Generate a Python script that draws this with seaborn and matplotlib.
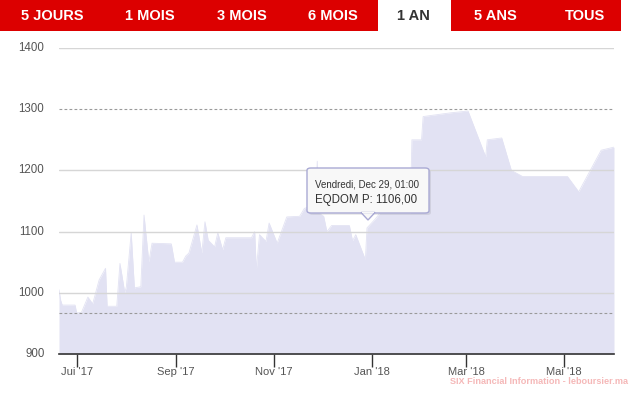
import matplotlib
matplotlib.use("Agg")
import matplotlib.pyplot as plt
from matplotlib.patches import Rectangle, FancyBboxPatch, Polygon
import seaborn as sns
import pandas as pd

# ---- data ----
dates = [
    "2017-06-20", "2017-06-21", "2017-06-22", "2017-06-30", "2017-07-01", "2017-07-04",
    "2017-07-08", "2017-07-11", "2017-07-15", "2017-07-19", "2017-07-20", "2017-07-26",
    "2017-07-28", "2017-07-31", "2017-08-01", "2017-08-04", "2017-08-06", "2017-08-10",
    "2017-08-12", "2017-08-15", "2017-08-17", "2017-08-29", "2017-08-31", "2017-09-05",
    "2017-09-07", "2017-09-09", "2017-09-14", "2017-09-17", "2017-09-19", "2017-09-21",
    "2017-09-25", "2017-09-27", "2017-09-30", "2017-10-02", "2017-10-18", "2017-10-20",
    "2017-10-21", "2017-10-23", "2017-10-27", "2017-10-29", "2017-11-03", "2017-11-09",
    "2017-11-17", "2017-11-20", "2017-11-23", "2017-11-27", "2017-11-28", "2017-11-29",
    "2017-12-02", "2017-12-04", "2017-12-07", "2017-12-18", "2017-12-20", "2017-12-22",
    "2017-12-28", "2017-12-29", "2018-01-03", "2018-01-06", "2018-01-25", "2018-01-26",
    "2018-02-01", "2018-02-02", "2018-02-19", "2018-03-02", "2018-03-13", "2018-03-14",
    "2018-03-23", "2018-03-29", "2018-04-05", "2018-05-03", "2018-05-10", "2018-05-24",
    "2018-06-01",
]
values = [
    1005, 988, 980, 980, 967, 968,
    993, 982, 1021, 1040, 978, 978,
    1048, 1000, 1010, 1098, 1008, 1010,
    1127, 1050, 1081, 1080, 1050, 1050,
    1060, 1065, 1111, 1065, 1116, 1086,
    1075, 1098, 1070, 1090, 1090, 1100,
    1037, 1095, 1084, 1114, 1081, 1124,
    1125, 1138, 1140, 1150, 1215, 1130,
    1125, 1100, 1110, 1110, 1085, 1095,
    1054, 1106, 1120, 1130, 1130, 1250,
    1250, 1288, 1294, 1297, 1222, 1250,
    1253, 1200, 1190, 1190, 1165, 1233,
    1238,
]
yticks = [900, 1000, 1100, 1200, 1300, 1400]
xtick_dates = ["2017-07-01", "2017-09-01", "2017-11-01", "2018-01-01", "2018-03-01", "2018-05-01"]
xtick_labels = ["Jui '17", "Sep '17", "Nov '17", "Jan '18", "Mar '18", "Mai '18"]
tabs = ["5 JOURS", "1 MOIS", "3 MOIS", "6 MOIS", "1 AN", "5 ANS", "TOUS"]
tab_centers = [52, 150, 242, 333, 413, 495, 585]
max_line = 1300
min_line = 967

df = pd.DataFrame({"date": pd.to_datetime(dates), "value": values})

sns.set_theme(style="white")
plt.rcParams["font.family"] = ["Liberation Sans", "DejaVu Sans"]

W, H = 632, 394
fig = plt.figure(figsize=(W / 100, H / 100), dpi=100)
fig.patch.set_facecolor("white")

def fx(x):
    return x / W

def fy(y):
    return 1 - y / H

ax = fig.add_axes([fx(59), fy(354), fx(614) - fx(59), fy(48) - fy(354)])
ax.set_facecolor("white")

fill_color = "#e2e2f3"
ax.fill_between(df["date"], df["value"], 900, color=fill_color, lw=0, zorder=1)
sns.lineplot(data=df, x="date", y="value", ax=ax, color=fill_color, lw=0.6, zorder=1)

for v in [1000, 1100, 1200, 1400]:
    ax.axhline(v, color="#d6d6d6", lw=1, zorder=2)
for v in [max_line, min_line]:
    ax.axhline(v, color="#9a9a9a", lw=0.8, ls=(0, (2.5, 2)), zorder=2)

ax.set_ylim(900, 1400)
ax.set_xlim(df["date"].min(), df["date"].max())
ax.set_yticks(yticks)
ax.set_yticklabels([str(v) for v in yticks], fontsize=8.3, color="#555555")
ax.set_xticks(pd.to_datetime(xtick_dates))
ax.set_xticklabels(xtick_labels, fontsize=8, color="#555555")
ax.set_xlabel("")
ax.set_ylabel("")
ax.grid(False)
for s in ["top", "right", "left"]:
    ax.spines[s].set_visible(False)
ax.spines["bottom"].set_color("#333333")
ax.spines["bottom"].set_linewidth(1.2)
ax.tick_params(axis="x", length=9, width=1, color="#333333", pad=0.5, direction="out", bottom=True)
ax.tick_params(axis="y", length=0, pad=10.5)
for lab in ax.get_yticklabels():
    lab.set_verticalalignment("center")

# ---- top tab bar ----
fig.add_artist(Rectangle((0, fy(31)), fx(621), 31 / H, transform=fig.transFigure,
                         facecolor="#dc0000", edgecolor="none", zorder=5))
fig.add_artist(Rectangle((fx(378), fy(31)), fx(451) - fx(378), 31 / H, transform=fig.transFigure,
                         facecolor="white", edgecolor="none", zorder=6))
for t, cx in zip(tabs, tab_centers):
    col = "#333333" if t == "1 AN" else "white"
    fig.text(fx(cx), fy(16), t, ha="center", va="center", fontsize=10.5,
             fontweight="bold", color=col, zorder=7)

# ---- tooltip ----
bx0, by0, bx1, by1 = 307, 168, 429, 213
fig.add_artist(FancyBboxPatch((fx(bx0 + 2), fy(by1 + 2)), fx(bx1 - bx0), (by1 - by0) / H,
                              boxstyle="round,pad=0,rounding_size=0.006", transform=fig.transFigure,
                              facecolor="#00000014", edgecolor="none", zorder=8))
fig.add_artist(FancyBboxPatch((fx(bx0), fy(by1)), fx(bx1 - bx0), (by1 - by0) / H,
                              boxstyle="round,pad=0,rounding_size=0.006", transform=fig.transFigure,
                              facecolor="#f8f8f8", edgecolor="#a9a9d4", lw=1, zorder=9))
fig.add_artist(Polygon([(fx(361), fy(by1 - 0.5)), (fx(375), fy(by1 - 0.5)), (fx(368), fy(220))],
                       closed=True, transform=fig.transFigure,
                       facecolor="#f8f8f8", edgecolor="#a9a9d4", lw=1, zorder=9))
fig.add_artist(Rectangle((fx(362), fy(by1 + 0.2)), fx(12), 1.6 / H, transform=fig.transFigure,
                         facecolor="#f8f8f8", edgecolor="none", zorder=10))
fig.text(fx(315), fy(184), "Vendredi, Dec 29, 01:00", ha="left", va="center",
         fontsize=7, color="#333333", zorder=11)
fig.text(fx(315), fy(200), "EQDOM P: 1106,00", ha="left", va="center",
         fontsize=8.3, color="#333333", zorder=11)

# ---- watermark ----
fig.text(fx(628), fy(382), "SIX Financial Information - leboursier.ma", ha="right", va="center",
         fontsize=6.6, fontweight="bold", color="#f5b8b8", zorder=11)

fig.savefig("out.png", dpi=100)
